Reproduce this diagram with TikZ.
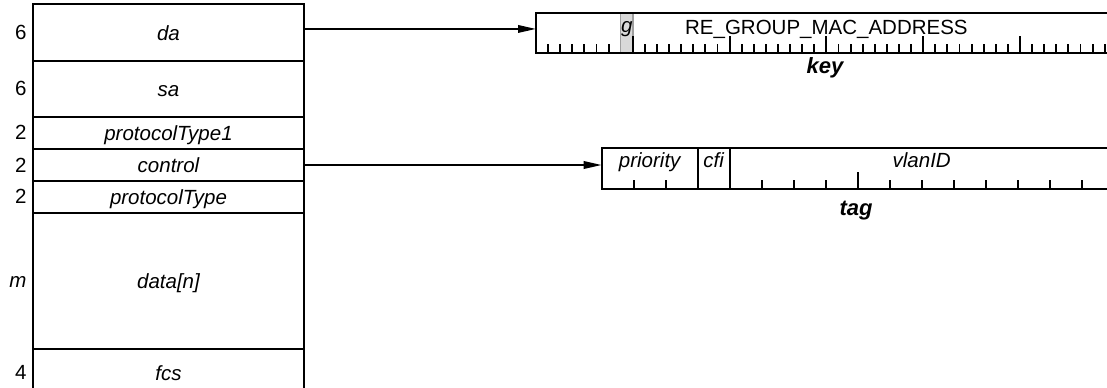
\documentclass[tikz,border=0pt]{standalone}
\usepackage{fontspec}
\setmainfont{Liberation Sans}
\usetikzlibrary{arrows.meta,positioning,calc}
\begin{document}
\begin{tikzpicture}[x=1bp,y=-1bp,
  row/.style={draw, line width=2bp, minimum width=271.6bp, inner sep=0pt, outer sep=0pt,
    font=\fontsize{20.5bp}{24bp}\selectfont\itshape, text height=15bp, text depth=0pt},
  num/.style={inner sep=0pt, font=\fontsize{20.5bp}{24bp}\selectfont, text height=14bp, text depth=0pt},
  fld/.style={inner sep=0pt, anchor=base, font=\fontsize{20.5bp}{24bp}\selectfont\itshape},
  fldup/.style={inner sep=0pt, anchor=base, font=\fontsize{20.5bp}{24bp}\selectfont},
  caplbl/.style={inner sep=0pt, anchor=base, font=\fontsize{22bp}{26bp}\selectfont\bfseries\itshape},
  bitbox/.style={draw, line width=2bp, inner sep=0pt, outer sep=0pt},
  tick/.style={line width=1.9bp},
  arr/.style={line width=1.9bp, -{Triangle[length=18bp,width=7.5bp]}},
]
\useasboundingbox (0,0) rectangle (1107,387);
\clip (0,0) rectangle (1107,387);

% frame rows
\node[row, minimum height=56.7bp]  (da)      at (168.5,32.65)  {da};
\node[row, minimum height=55.7bp]  (sa)      at (168.5,88.85)  {sa};
\node[row, minimum height=32.3bp]  (pt1)     at (168.5,132.85) {protocolType1};
\node[row, minimum height=32bp]    (control) at (168.5,165)    {control};
\node[row, minimum height=31.7bp]  (pt)      at (168.5,196.85) {protocolType};
\node[row, minimum height=136.3bp] (data)    at (168.5,280.85) {data[n]};
\node[row, minimum height=47.4bp]  (fcs)     at (168.5,372.7)  {fcs};

% sizes
\node[num, left=6bp of da]      (nda)  {6};
\node[num, left=6bp of sa]      (nsa)  {6};
\node[num, left=6bp of pt1]     (npt1) {2};
\node[num, left=6bp of control] (nctl) {2};
\node[num, left=6bp of pt]      (npt)  {2};
\node[num, left=6bp of data, font=\fontsize{20.5bp}{24bp}\selectfont\itshape] (ndata) {m};
\node[num, left=6bp of fcs]     (nfcs) {4};

% key (MAC address)
\fill[gray!30] (620.7,14) rectangle (632.8,51.7);
\draw[gray!75, line width=1.4bp] (620.7,14) -- (620.7,51.7) (632.8,14) -- (632.8,51.7);
\node[bitbox, minimum width=580.8bp, minimum height=39.7bp] (key) at (826.4,32.85) {};
\foreach \i in {1,...,47} {
  \ifnum\i=7\relax\else
    \pgfmathsetmacro\len{mod(\i,8)==0 ? 16.5 : 8.3}
    \draw[tick] ($(key.south west)+(\i*12.1,0)$) -- ++(0,-\len);
  \fi
}
\node[fld] (gbit) at (626.8,32.5) {g};
\node[fldup] (keyname) at (826.4,34) {RE\_GROUP\_MAC\_ADDRESS};
\node[caplbl] (keylbl) at (825,73) {key};

% tag
\node[bitbox, minimum width=512bp, minimum height=40.7bp] (tag) at (857.7,168.65) {};
\draw[tick] ($(tag.south west)+(96,0)$) -- ($(tag.north west)+(96,0)$);
\draw[tick] ($(tag.south west)+(128,0)$) -- ($(tag.north west)+(128,0)$);
\foreach \i in {1,2,5,6,7,8,9,10,11,12,13,14,15} {
  \pgfmathsetmacro\len{\i==8 ? 16.7 : 9}
  \draw[tick] ($(tag.south west)+(\i*32,0)$) -- ++(0,-\len);
}
\node[fld] (prio) at (649.7,167.5) {priority};
\node[fld] (cfi)  at (713.7,167.5) {cfi};
\node[fld] (vlan) at (921.7,167.5) {vlanID};
\node[caplbl] (taglbl) at (856,215.5) {tag};

% connectors
\draw[arr] ([yshift=3.7bp]da.east) -- ([yshift=3.9bp]key.west);
\draw[arr] (control.east) -- (tag.west |- control.east);
\end{tikzpicture}
\end{document}
